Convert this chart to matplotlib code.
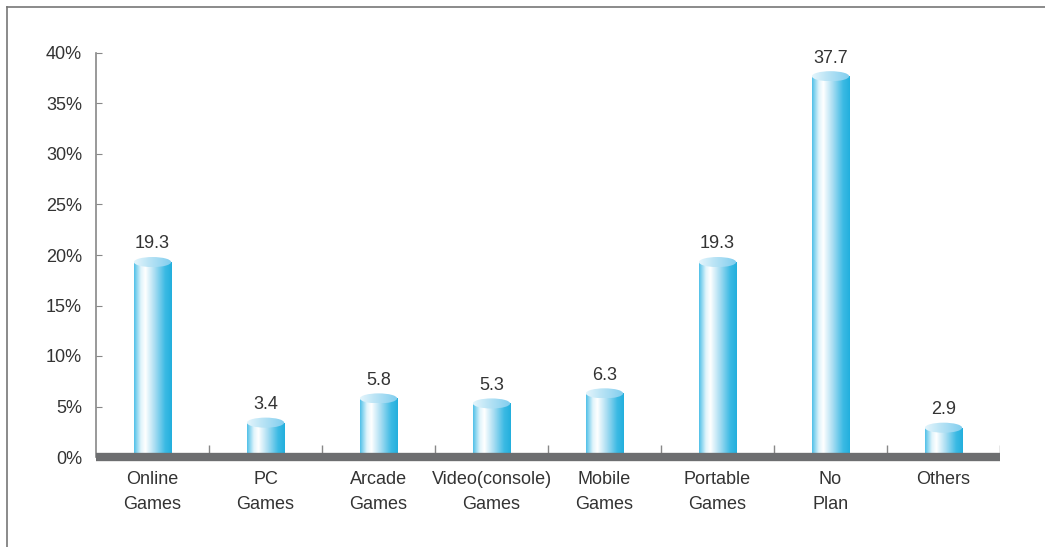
import numpy as np
import matplotlib
matplotlib.use('Agg')
import matplotlib.pyplot as plt
from matplotlib.colors import LinearSegmentedColormap
from matplotlib.patches import Ellipse, Rectangle
from matplotlib.lines import Line2D

# 데이터
categories = ['Online\nGames', 'PC\nGames', 'Arcade\nGames', 'Video(console)\nGames',
              'Mobile\nGames', 'Portable\nGames', 'No\nPlan', 'Others']
values = [19.3, 3.4, 5.8, 5.3, 6.3, 19.3, 37.7, 2.9]
yticks = [0, 5, 10, 15, 20, 25, 30, 35, 40]

plt.rcParams['font.family'] = ['Liberation Sans', 'DejaVu Sans']
txt = '#333333'

# 원기둥 색
body_cmap = LinearSegmentedColormap.from_list('body', [
    (0.0, '#4fc0e8'), (0.18, '#dff4fb'), (0.3, '#ffffff'),
    (0.55, '#a8ddf2'), (0.82, '#3cbae4'), (1.0, '#22afdd')])
top_cmap = LinearSegmentedColormap.from_list('top', [
    (0.0, '#e4f5fc'), (0.35, '#bfe6f6'), (1.0, '#7fcdee')])
grad = np.linspace(0, 1, 256).reshape(1, -1)

fig = plt.figure(figsize=(10.45, 5.47), dpi=100)
ax = fig.add_axes([96 / 1045, 90 / 547, 904 / 1045, 404 / 547])

x = np.arange(len(values))
w = 0.33
cap_h = 1.0

for xi, v in zip(x, values):
    body = ax.imshow(grad, cmap=body_cmap, aspect='auto',
                     extent=[xi - w / 2, xi + w / 2, 0, v], zorder=2)
    rect = Rectangle((xi - w / 2, 0), w, v, transform=ax.transData)
    body.set_clip_path(rect)
    ell = Ellipse((xi, v), w, cap_h, facecolor='none', edgecolor='none')
    ax.add_patch(ell)
    top = ax.imshow(grad, cmap=top_cmap, aspect='auto',
                    extent=[xi - w / 2, xi + w / 2, v - cap_h / 2, v + cap_h / 2], zorder=3)
    top.set_clip_path(ell)
    ax.text(xi, v + 1.8, f'{v:.1f}', ha='center', va='center', fontsize=13, color=txt)

# 바닥 막대와 구분 눈금
ax.axhline(0, color='#6d6e70', lw=6, zorder=4, clip_on=False, solid_capstyle='butt')
ax.vlines(np.arange(0.5, len(values), 1), 0, 1.2, color='#888888', lw=1, zorder=1)

ax.set_xlim(-0.5, len(values) - 0.5)
ax.set_ylim(0, 40)
ax.set_yticks(yticks)
ax.set_yticklabels([f'{t}%' for t in yticks], fontsize=13, color=txt)
ax.tick_params(axis='y', direction='in', length=4, color='#888888', pad=10)
ax.set_xticks(x)
ax.set_xticklabels(categories, fontsize=13, color=txt, linespacing=1.65)
ax.tick_params(axis='x', length=0, pad=10)

for s in ['top', 'right', 'bottom']:
    ax.spines[s].set_visible(False)
ax.spines['left'].set_color('#888888')
ax.spines['left'].set_linewidth(1.2)

# 바깥 테두리
fig.add_artist(Line2D([7 / 1045, 7 / 1045], [0, 1 - 7 / 547], color='#777777', lw=1.2))
fig.add_artist(Line2D([7 / 1045, 1], [1 - 7 / 547, 1 - 7 / 547], color='#777777', lw=1.2))

fig.savefig('out.png', dpi=100)
